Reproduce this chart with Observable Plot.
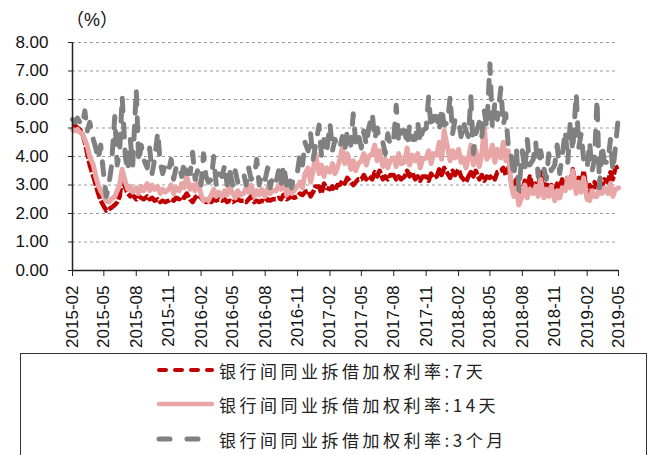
<!DOCTYPE html>
<html><head><meta charset="utf-8">
<script src="https://cdn.jsdelivr.net/npm/d3@7"></script>
<script src="https://cdn.jsdelivr.net/npm/@observablehq/plot@0.6"></script>
<style>
body{margin:0;background:#fff;}
#wrap{position:relative;width:651px;height:455px;overflow:hidden;}
#legend{position:absolute;left:20px;top:353px;width:627px;height:130px;border:1px solid #333;box-sizing:border-box;background:#fff;}
.item{position:absolute;left:135px;height:24px;display:flex;align-items:center;}
.item span{font-family:"Noto Sans CJK SC",sans-serif;font-size:17px;letter-spacing:3.5px;color:#222;margin-left:5px;white-space:nowrap;}
</style></head>
<body><div id="wrap"><div id="chart"></div><div id="legend"></div></div>
<script>
// quarterly tick labels on the x axis
const tickLabels = ["2015-02","2015-05","2015-08","2015-11","2016-02","2016-05","2016-08","2016-11","2017-02","2017-05","2017-08","2017-11","2018-02","2018-05","2018-08","2018-11","2019-02","2019-05"];
const yTicks = [0,1,2,3,4,5,6,7,8];
const seriesNames = ["银行间同业拆借加权利率:7天","银行间同业拆借加权利率:14天","银行间同业拆借加权利率:3个月"];
// observation days within each month, 2015-02 .. 2019-04, then 2019-05-01
const obsDays = [1,8,15,22];

// 7天 (four values per month)
const r7 = [
5.05,5.1,5.0,4.95, 4.8,4.5,4.1,3.7, 3.3,3.0,2.7,2.45, 2.25,2.1,2.15,2.2,
2.3,2.4,2.6,3.3, 2.9,2.7,2.6,2.65, 2.5,2.6,2.55,2.5, 2.6,2.5,2.55,2.45,
2.5,2.4,2.45,2.4, 2.45,2.5,2.45,2.55, 2.5,2.6,2.55,2.7,
2.5,2.4,2.55,2.65, 2.55,2.45,2.4,2.45, 2.4,2.5,2.45,2.5, 2.45,2.5,2.4,2.45,
2.4,2.45,2.5,2.45, 2.45,2.4,2.5,2.6, 2.4,2.45,2.4,2.45, 2.4,2.5,2.45,2.5,
2.5,2.55,2.5,2.65, 2.5,2.55,2.6,2.55, 2.6,2.7,2.65,2.75, 2.8,2.6,2.75,2.95,
2.95,2.7,3.05,2.9, 2.85,2.95,2.8,3.0, 3.0,3.15,3.05,3.25, 3.1,3.0,3.1,3.2,
3.2,3.35,3.2,3.3, 3.2,3.45,3.3,3.5, 3.2,3.3,3.2,3.35, 3.35,3.2,3.3,3.2,
3.3,3.5,3.3,3.45, 3.2,3.3,3.15,3.3, 3.3,3.15,3.4,3.25, 3.3,3.55,3.35,3.6,
3.4,3.25,3.5,3.35, 3.55,3.3,3.2,3.1, 3.3,3.45,3.3,3.5, 3.2,3.35,3.15,3.3,
3.25,3.35,3.2,3.45, 3.5,3.6,3.35,3.6, 3.1,2.9,3.2,2.75, 2.8,3.15,2.9,3.3,
2.9,3.05,2.85,3.45, 2.75,3.1,2.85,3.0, 2.8,3.05,2.9,3.2, 3.0,3.3,3.1,3.55,
2.9,3.25,3.0,3.5, 2.7,3.0,2.85,3.1, 2.9,3.15,2.95,3.2, 3.1,3.45,3.2,3.6,
3.65];
// 14天
const r14 = [
4.95,4.9,4.95,4.85, 4.8,4.6,4.35,4.0, 3.7,3.3,3.0,2.8, 2.6,2.45,2.4,2.5,
2.6,2.8,3.0,3.55, 3.1,2.85,2.95,2.75, 2.9,2.7,2.95,2.8, 3.05,2.8,3.0,2.85,
2.95,2.7,2.85,2.75, 2.85,3.0,2.7,2.9, 2.8,3.05,2.9,3.3,
2.85,3.0,2.8,3.15, 2.65,2.45,2.5,2.45, 2.65,2.85,2.6,2.75, 2.6,2.8,2.65,2.95,
2.7,2.55,2.8,2.65, 2.7,2.9,2.75,3.0, 2.6,2.8,2.65,2.85, 2.6,2.9,2.7,2.8,
2.8,3.0,2.85,3.2, 2.65,2.85,2.7,2.8, 2.95,3.1,2.9,3.4, 3.6,3.1,3.5,4.1,
3.4,3.7,3.3,3.6, 3.45,3.75,3.4,3.6, 3.9,4.3,3.75,4.1, 3.55,3.85,3.5,3.75,
3.85,4.1,3.7,4.0, 4.1,4.4,3.85,4.2, 3.65,3.9,3.6,3.85, 3.95,3.65,4.1,3.75,
3.8,4.3,3.7,4.05, 3.85,4.1,3.6,3.9, 3.95,4.2,3.75,4.1, 4.05,4.5,3.9,4.9,
4.3,3.85,4.2,3.95, 4.25,3.8,3.95,3.6, 3.95,4.4,3.7,4.2, 3.65,4.1,5.05,3.9,
4.05,4.4,3.8,4.25, 3.95,4.5,3.85,4.2, 2.95,2.6,2.9,2.3, 2.6,3.0,2.55,2.85,
2.7,2.95,2.6,3.2, 2.55,2.85,2.6,2.95, 2.45,2.8,2.55,2.9, 2.8,3.25,2.9,3.5,
2.7,3.1,2.75,3.25, 2.5,2.45,2.8,2.6, 2.6,2.95,2.7,2.9, 2.7,3.05,2.6,2.85,
2.9];
// 3个月
const m3 = [
5.3,5.2,5.35,5.2, 5.1,5.6,4.9,5.2, 4.6,4.3,3.9,4.4, 3.3,2.6,3.0,3.6,
5.4,3.7,4.2,6.1, 4.0,3.5,4.6,3.7, 6.35,3.8,4.4,3.9, 3.6,4.3,3.4,3.9,
4.85,3.8,3.4,3.7, 3.5,3.9,3.2,3.6, 3.7,3.3,3.8,3.4,
3.4,4.15,3.2,3.5, 3.0,4.1,3.3,3.1, 3.2,4.0,3.0,3.4, 3.3,3.7,3.0,3.5,
3.0,3.5,3.1,3.3, 3.4,3.0,3.6,3.2, 3.3,3.9,3.0,3.4, 3.2,3.6,2.9,3.3,
3.1,3.5,3.0,3.7, 3.0,3.3,2.9,3.4, 3.5,4.1,3.7,4.5, 4.2,4.8,3.9,4.4,
5.1,4.0,4.6,4.1, 5.15,4.2,4.6,4.3, 4.3,4.7,4.2,4.9, 4.4,5.5,4.5,4.8,
4.3,4.9,4.4,5.0, 5.5,4.6,5.0,4.5, 4.5,4.1,4.8,4.4, 4.6,5.8,4.5,4.9,
4.9,4.4,5.1,4.6, 4.6,5.2,4.5,4.9, 5.0,6.1,5.0,5.4, 5.4,4.9,5.7,5.1,
5.2,6.1,4.8,5.3, 5.3,4.7,5.2,4.9, 4.7,6.1,4.1,4.8, 5.2,4.7,5.6,5.0,
7.25,5.0,5.9,5.3, 6.4,5.1,5.5,4.4, 4.0,3.3,4.3,2.8, 4.2,3.5,4.6,3.7,
3.9,4.5,3.3,4.2, 3.6,3.2,4.1,3.5, 3.7,4.4,3.4,4.0, 4.9,3.8,5.2,4.2,
6.2,4.3,4.8,3.9, 3.6,4.5,3.5,3.9, 6.0,2.9,4.4,3.8, 3.8,4.6,3.5,4.3,
5.45];

const parse = d3.utcParse("%Y-%m");
const start = parse(tickLabels[0]), end = parse(tickLabels[tickLabels.length-1]);
const dates = [];
for (const m of d3.utcMonth.range(start, end)) for (const d of obsDays) dates.push(d3.utcDay.offset(m, d-1));
dates.push(end);
const data = dates.map((date,i)=>({date, v7:r7[i], v14:r14[i], v3m:m3[i]}));
const tickDates = tickLabels.map(parse);

const colors = ["#C00000","#E8A6A6","#808080"];
const font = '"Liberation Sans", Arial, sans-serif';
const cjk = '"Noto Sans CJK SC", sans-serif';

const chart = Plot.plot({
  width: 651, height: 353,
  marginLeft: 72, marginRight: 33, marginTop: 42, marginBottom: 83,
  style: {fontFamily: font, fontSize: "17px", color: "#111", background: "#fff"},
  x: {type: "utc", domain: [start, end]},
  y: {domain: [0, 8]},
  marks: [
    Plot.gridY(yTicks.filter(d=>d>0), {stroke:"#999", strokeOpacity:1, strokeDasharray:"3,3"}),
    Plot.lineY(data, {x:"date", y:"v7", stroke:colors[0], strokeWidth:4.5, strokeDasharray:"12,2", strokeLinecap:"butt"}),
    Plot.lineY(data, {x:"date", y:"v14", stroke:colors[1], strokeWidth:5}),
    Plot.lineY(data, {x:"date", y:"v3m", stroke:colors[2], strokeWidth:5, strokeDasharray:"13,13", strokeLinecap:"round"}),
    Plot.ruleY([0], {stroke:"#222", strokeWidth:1.5}),
    Plot.ruleX([start], {stroke:"#222", strokeWidth:1.5}),
    Plot.axisY({ticks: yTicks, tickFormat: d3.format(".2f"), tickSize: 4, tickPadding: 20, label: null, fontSize: 17, stroke:"#222"}),
    Plot.axisX({ticks: tickDates, tickFormat: d3.utcFormat("%Y-%m"), tickRotate: -90, tickSize: 6, tickPadding: 9, label: null, fontSize: 17, stroke:"#222"})
  ]
});
const t = d3.select(chart).append("text").attr("x", 66).attr("y", 26).attr("text-anchor", "start")
  .attr("font-size", 18).attr("fill", "#111");
t.append("tspan").attr("font-family", cjk).text("（");
t.append("tspan").attr("font-family", font).attr("dx", 0).text("%");
t.append("tspan").attr("font-family", cjk).text("）");
document.getElementById("chart").append(chart);

// legend
const lg = d3.select("#legend");
const rowsY = [4, 38, 73];
const dashes = [["7,9","round",4],[null,"round",4.5],["11,17","round",5]];
seriesNames.forEach((name,i)=>{
  const it = lg.append("div").attr("class","item").style("top", rowsY[i]+"px");
  const s = it.append("svg").attr("width", 58).attr("height", 24);
  const ln = s.append("line").attr("x1", 3).attr("x2", 56).attr("y1", 12).attr("y2", 12)
    .attr("stroke", colors[i]).attr("stroke-width", dashes[i][2]).attr("stroke-linecap", dashes[i][1]);
  if (dashes[i][0]) ln.attr("stroke-dasharray", dashes[i][0]);
  it.append("span").text(name);
});
</script></body></html>
